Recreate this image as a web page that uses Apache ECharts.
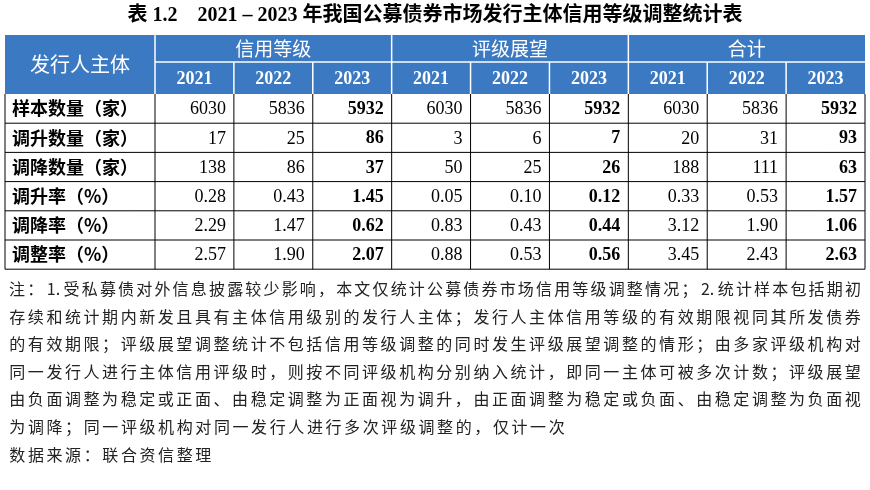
<!DOCTYPE html><html><head><meta charset="utf-8"><script src="https://cdn.jsdelivr.net/npm/echarts@6/dist/echarts.min.js"></script>
<style>html,body{margin:0;background:#fff}#c{width:870px;height:490px}</style></head><body><div id="c"></div><script>
const title = '表 1.2    2021 – 2023 年我国公募债券市场发行主体信用等级调整统计表';
const groups = ['信用等级','评级展望','合计'];
const years = ['2021','2022','2023'];
const rowLabels = ['样本数量（家）','调升数量（家）','调降数量（家）','调升率（%）','调降率（%）','调整率（%）'];
const values = [
 ['6030','5836','5932','6030','5836','5932','6030','5836','5932'],
 ['17','25','86','3','6','7','20','31','93'],
 ['138','86','37','50','25','26','188','111','63'],
 ['0.28','0.43','1.45','0.05','0.10','0.12','0.33','0.53','1.57'],
 ['2.29','1.47','0.62','0.83','0.43','0.44','3.12','1.90','1.06'],
 ['2.57','1.90','2.07','0.88','0.53','0.56','3.45','2.43','2.63']];
const notes = [
 '注：1.受私募债对外信息披露较少影响，本文仅统计公募债券市场信用等级调整情况；2.统计样本包括期初',
 '存续和统计期内新发且具有主体信用级别的发行人主体；发行人主体信用等级的有效期限视同其所发债券',
 '的有效期限；评级展望调整统计不包括信用等级调整的同时发生评级展望调整的情形；由多家评级机构对',
 '同一发行人进行主体信用评级时，则按不同评级机构分别纳入统计，即同一主体可被多次计数；评级展望',
 '由负面调整为稳定或正面、由稳定调整为正面视为调升，由正面调整为稳定或负面、由稳定调整为负面视',
 '为调降；同一评级机构对同一发行人进行多次评级调整的，仅计一次'];
const source = '数据来源：联合资信整理';

const L=5,R=865,C0=155,H1=35,H2=62,H3=94,RH=29.2;
const cw=(R-C0)/9;
const blue='#3b79c3';
const serif='"Liberation Serif","Noto Sans CJK SC",serif';
const cjk='"Noto Sans CJK SC",sans-serif';
const g=[];
g.push({type:'text',style:{text:title,x:435,y:16,align:'center',verticalAlign:'middle',font:'bold 20px '+serif,fill:'#000'}});
g.push({type:'rect',shape:{x:L,y:H1,width:R-L,height:H3-H1},style:{fill:blue}});
g.push({type:'text',style:{text:'发行人主体',x:(L+C0)/2,y:(H1+H3)/2,align:'center',verticalAlign:'middle',font:'20px '+cjk,fill:'#fff'}});
groups.forEach((t,i)=>{
 g.push({type:'text',style:{text:t,x:C0+cw*(3*i+1.5),y:(H1+H2)/2,align:'center',verticalAlign:'middle',font:'19px '+cjk,fill:'#fff'}});
 years.forEach((y,j)=>g.push({type:'text',style:{text:y,x:C0+cw*(3*i+j+0.5),y:(H2+H3)/2+1,align:'center',verticalAlign:'middle',font:'bold 18px '+serif,fill:'#fff'}}));
});
const wl=(x1,y1,x2,y2,c,w)=>g.push({type:'line',shape:{x1,y1,x2,y2},style:{stroke:c,lineWidth:w||1}});
wl(C0,H2,R,H2,'#fff',1.5);
for(let k=0;k<9;k++){const x=C0+cw*k; wl(x,k%3==0?H1:H2,x,H3,'#fff',1.5);}
const bottom=H3+RH*rowLabels.length;
rowLabels.forEach((lab,r)=>{
 const yc=H3+RH*(r+0.5);
 g.push({type:'text',style:{text:lab,x:L+7,y:yc,verticalAlign:'middle',font:'bold 18px '+cjk,fill:'#000'}});
 values[r].forEach((v,k)=>g.push({type:'text',style:{text:v,x:C0+cw*(k+1)-8,y:yc+1,align:'right',verticalAlign:'middle',font:(k%3==2?'bold ':'')+'18px '+serif,fill:'#000'}}));
 wl(L,H3+RH*(r+1),R,H3+RH*(r+1),'#000',1);
});
wl(L,H3,L,bottom,'#000',1);
for(let k=0;k<=9;k++) wl(C0+cw*k,H3,C0+cw*k,bottom,'#000',1);
const tok=s=>s.match(/\d\.|./gu);
notes.forEach((ln,i)=>{
 const y=289+27.6*i; const chars=tok(ln);
 const last=i==notes.length-1; const pitch=last?18.6:(R-3-8)/chars.length;
 chars.forEach((ch,j)=>g.push({type:'text',style:{text:ch,x:8+pitch*j+pitch/2,y,align:'center',verticalAlign:'middle',font:'16px '+cjk,fill:'#222'}}));
});
tok(source).forEach((ch,j)=>g.push({type:'text',style:{text:ch,x:8+18.6*j+9.3,y:455,align:'center',verticalAlign:'middle',font:'16px '+cjk,fill:'#222'}}));
echarts.init(document.getElementById('c')).setOption({animation:false,graphic:g});
</script></body></html>
